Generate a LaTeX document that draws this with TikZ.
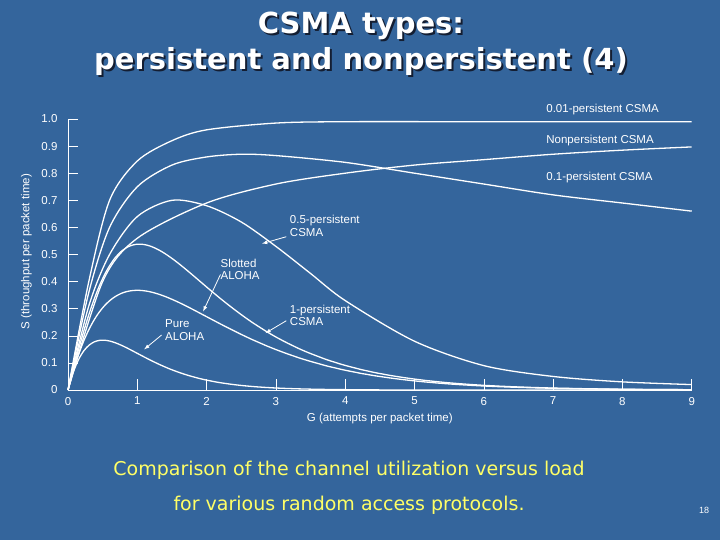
\documentclass[tikz,border=0pt]{standalone}
\usepackage{fontspec}
\setmainfont{Liberation Sans}
\newfontfamily\titlefont{DejaVu Sans}
\begin{document}
\begin{tikzpicture}[x=1pt,y=-1pt,
  lbl/.style={text=white,font=\fontsize{11.5}{12.5}\selectfont,inner sep=0pt},
  ml/.style={lbl,align=left,anchor=north west},
  crv/.style={white,line width=1.3pt},
  arr/.style={white,line width=0.8pt,-latex},
  ttl/.style={font=\titlefont\bfseries\fontsize{29}{36}\selectfont,align=center}]
\fill[fill={rgb,255:red,52;green,101;blue,156}] (0,0) rectangle (720,540);
\useasboundingbox (0,0) rectangle (720,540);
\node[ttl,text={rgb,255:red,20;green,30;blue,50}] (tsh) at (363,46) {CSMA types:\\persistent and nonpersistent (4)};
\node[ttl,text=white] (title) at (361,44) {CSMA types:\\persistent and nonpersistent (4)};
\node[text={rgb,255:red,255;green,255;blue,102},font=\titlefont\fontsize{19}{35}\selectfont,align=center] (cap) at (349,488) {Comparison of the channel utilization versus load\\for various random access protocols.};
\node[text=white,font=\fontsize{9}{10}\selectfont] (pg) at (704,510) {18};
\begin{scope}[shift={(68pt,-390pt)},x=69.3pt,y=27.1pt]
  \draw[white,line width=0.8pt] (0,10) -- (0,0) -- (9,0);
  \foreach \v/\t in {0/0,1/0.1,2/0.2,3/0.3,4/0.4,5/0.5,6/0.6,7/0.7,8/0.8,9/0.9,10/1.0}{
    \draw[white,line width=0.6pt] (0,\v) -- (0.15,\v);
    \node[lbl,anchor=east] (yt\v) at (-0.15,\v) {\t};}
  \foreach \g in {0,...,9}{
    \draw[white,line width=0.6pt] (\g,0) -- (\g,0.4);
    \node[lbl,anchor=north] (xt\g) at (\g,-0.25) {\g};}
  \node[lbl,rotate=90] (ylab) at (-0.6,5.1) {S (throughput per packet time)};
  \node[lbl] (xlab) at (4.5,-1.05) {G (attempts per packet time)};
  % curves
  \draw[crv,domain=0:9,samples=120,smooth] plot (\x,{10*\x*exp(-2*\x)});
  \draw[crv,domain=0:9,samples=120,smooth] plot (\x,{10*\x*exp(-\x)});
  \draw[crv,domain=0:9,samples=120,smooth] plot (\x,{10*\x*(1+\x)*exp(-\x)/(\x+exp(-\x))});
  \draw[crv] plot[smooth] coordinates {(0,0) (0.3,3.1) (0.6,5.0) (1,6.4) (1.5,7.0) (2,6.8) (2.5,6.2) (3,5.3) (3.5,4.3) (4,3.3) (5,1.8) (6,0.9) (7,0.5) (8,0.3) (9,0.2)};
  \draw[crv] plot[smooth] coordinates {(0,0) (0.3,3.6) (0.6,6.0) (1,7.5) (1.5,8.3) (2,8.6) (2.5,8.7) (3,8.65) (4,8.4) (5,8.0) (6,7.6) (7,7.2) (8,6.9) (9,6.6)};
  \draw[crv] plot[smooth] coordinates {(0,0) (0.5,4.0) (1,5.6) (2,6.9) (3,7.6) (4,8.0) (5,8.3) (6,8.5) (7,8.7) (8,8.85) (9,8.97)};
  \draw[crv] plot[smooth] coordinates {(0,0) (0.3,4.0) (0.6,7.0) (1,8.45) (1.5,9.2) (2,9.6) (3,9.85) (4,9.9) (6,9.9) (9,9.9)};
  % labels
  \node[lbl,anchor=west] (l001) at (6.9,10.35) {0.01-persistent CSMA};
  \node[lbl,anchor=west] (lnon) at (6.9,9.2) {Nonpersistent CSMA};
  \node[lbl,anchor=west] (l01) at (6.9,7.85) {0.1-persistent CSMA};
  \node[ml] (l05) at (3.2,6.45) {0.5-persistent\\CSMA};
  \node[ml] (lslot) at (2.2,4.85) {Slotted\\ALOHA};
  \node[ml] (l1) at (3.2,3.15) {1-persistent\\CSMA};
  \node[ml] (lpure) at (1.4,2.6) {Pure\\ALOHA};
  \coordinate (a05) at (2.8,5.4);
  \coordinate (aslot) at (1.95,2.9);
  \coordinate (a1) at (2.85,2.1);
  \coordinate (apure) at (1.1,1.5);
  \draw[arr] (l05.west) ++(-0.05,-0.4) -- (a05);
  \draw[arr] (lslot.south west) ++(0,0.2) -- (aslot);
  \draw[arr] (l1.west) ++(-0.05,-0.2) -- (a1);
  \draw[arr] (lpure.south west) ++(-0.05,0.2) -- (apure);
\end{scope}
\end{tikzpicture}
\end{document}
